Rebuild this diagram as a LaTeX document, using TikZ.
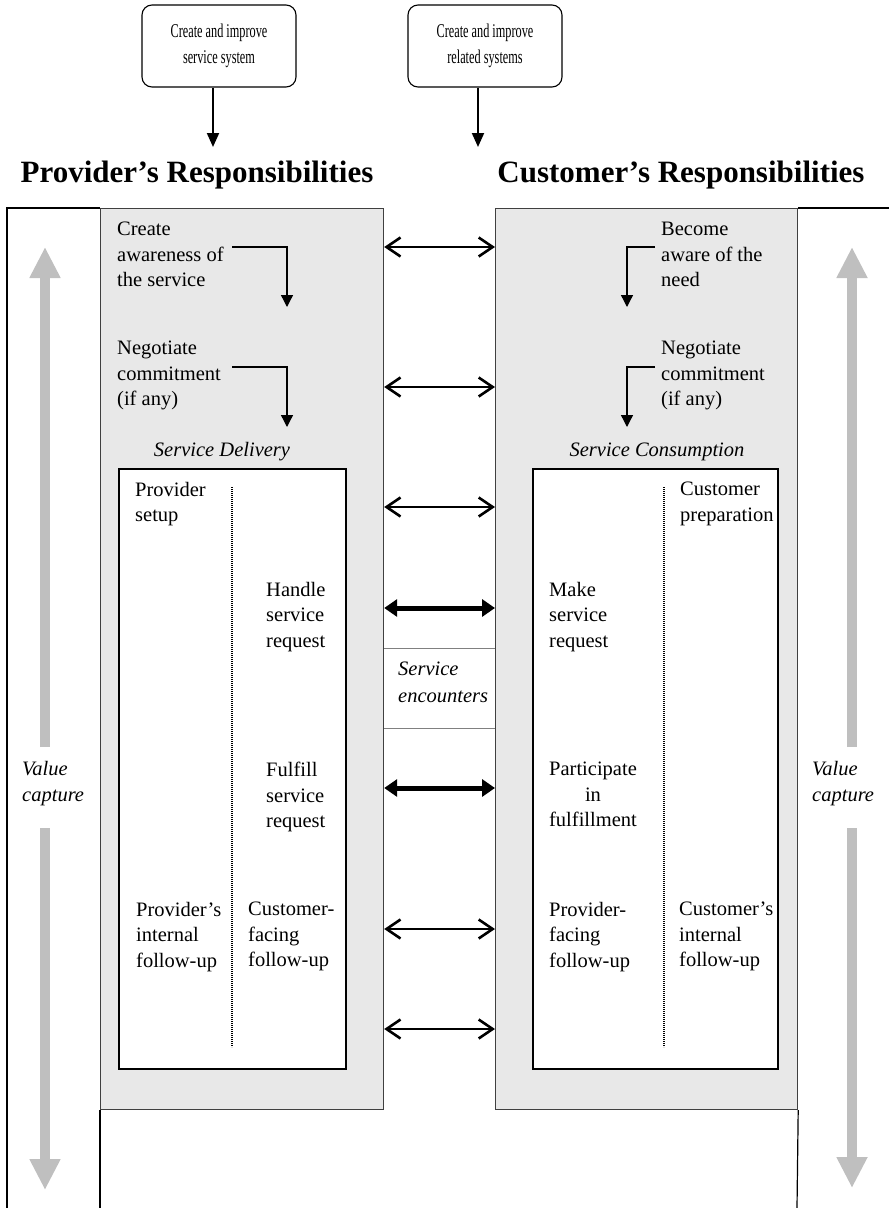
\documentclass[tikz,border=0pt]{standalone}
\usepackage{fontspec}
\setmainfont{Liberation Serif}
\newfontfamily\narrowfont[FakeStretch=0.63]{Liberation Serif}
\usetikzlibrary{arrows.meta}
\tikzset{
  body/.style={font=\fontsize{20.5}{25.5}\selectfont, inner sep=0pt, anchor=north west, align=left},
  ital/.style={body, font=\fontsize{20.5}{26.5}\selectfont\itshape},
  headtxt/.style={font=\fontsize{31}{36}\selectfont\bfseries, inner sep=0pt},
  topbox/.style={draw, line width=1.1pt, rounded corners=10pt, minimum width=154pt, minimum height=82pt, align=center, font=\narrowfont\fontsize{19.5}{26}\selectfont},
  greyside/.style={draw=black!75, fill=black!9, line width=1.2pt, inner sep=0pt, anchor=north west, minimum height=901pt},
  innerbox/.style={draw, fill=white, line width=2pt, inner sep=0pt, anchor=north west, minimum height=600pt},
  link/.style={{Straight Barb[length=14pt,width=19pt]}-{Straight Barb[length=14pt,width=19pt]}, line width=2.6pt},
  thicklink/.style={{Triangle[length=13pt,width=17pt]}-{Triangle[length=13pt,width=17pt]}, line width=5pt},
  bentarrow/.style={-{Triangle[length=12pt,width=12pt]}, line width=1.3pt},
  feedarrow/.style={-{Triangle[length=14pt,width=12pt]}, line width=2pt},
  valuearrow/.style={-{Triangle[length=31pt,width=29pt]}, line width=10pt, black!25},
  divider/.style={dash pattern=on 1.2pt off 0.8pt, line width=2pt},
  frame/.style={line width=1.2pt}
}
\begin{document}
\begin{tikzpicture}[x=1pt, y=-1pt]
\useasboundingbox (0,0) rectangle (889,1208);

\node[topbox] (psys) at (219,46) {Create and improve\\service system};
\node[topbox] (csys) at (485,46) {Create and improve\\related systems};
\node[headtxt] (phead) at (197,175) {Provider’s Responsibilities};
\node[headtxt] (chead) at (681,175) {Customer’s Responsibilities};
\coordinate (ptip) at (213,147);
\coordinate (ctip) at (478,147);
\draw[feedarrow] (psys.south -| ptip) -- (ptip);
\draw[feedarrow] (csys.south -| ctip) -- (ctip);

\node[greyside, minimum width=283pt] (pside) at (100,208) {};
\node[greyside, minimum width=302pt] (cside) at (495,208) {};
\draw[frame] (pside.north west) -- (7,208) -- (7,1208);
\draw[frame] (pside.south west) -- (100,1208);
\draw[frame] (cside.south east) -- (797,1208);
\draw[frame] (cside.north east) -- (889,208);

\node[innerbox, minimum width=227pt] (pinner) at (118,468) {};
\node[innerbox, minimum width=245pt] (cinner) at (532,468) {};
\draw[divider] (232,487) -- (232,1047);
\draw[divider] (664,487) -- (664,1047);

\node[body] (paware) at (117,222) {Create\\awareness of\\the service};
\node[body] (pneg) at (117,341) {Negotiate\\commitment\\(if any)};
\node[body] (caware) at (661,222) {Become\\aware of the\\need};
\node[body] (cneg) at (661,341) {Negotiate\\commitment\\(if any)};
\coordinate (pa1) at (232,247); \coordinate (pa2) at (287,307);
\coordinate (pn1) at (232,367); \coordinate (pn2) at (287,427);
\coordinate (ca1) at (655,247); \coordinate (ca2) at (627,307);
\coordinate (cn1) at (655,367); \coordinate (cn2) at (627,427);
\draw[bentarrow] (pa1) -| (pa2);
\draw[bentarrow] (pn1) -| (pn2);
\draw[bentarrow] (ca1) -| (ca2);
\draw[bentarrow] (cn1) -| (cn2);

\node[ital, anchor=center] (pdeliv) at (222,452) {Service Delivery};
\node[ital, anchor=center] (cconsum) at (657,452) {Service Consumption};

\node[body] (psetup) at (135,482) {Provider\\setup};
\node[body] (phandle) at (266,582) {Handle\\service\\request};
\node[body] (pfulfil) at (266,762) {Fulfill\\service\\request};
\node[body] (pinternal) at (136,902) {Provider’s\\internal\\follow-up};
\node[body] (pfacing) at (248,902) {Customer-\\facing\\follow-up};

\node[body] (cprep) at (680,482) {Customer\\preparation};
\node[body] (cmake) at (549,582) {Make\\service\\request};
\node[body, anchor=north, align=center] (cpart) at (593,762) {Participate\\in\\fulfillment};
\node[body] (cfacing) at (549,902) {Provider-\\facing\\follow-up};
\node[body] (cinternal) at (679,902) {Customer’s\\internal\\follow-up};

\draw[black!50] (pside.east |- 0,648) -- (cside.west |- 0,648);
\draw[black!50] (pside.east |- 0,728) -- (cside.west |- 0,728);
\node[ital] (encount) at (398,662) {Service\\encounters};

\foreach \y in {247,387,507,929,1029}
  \draw[link] (pside.east |- 0,\y) -- (cside.west |- 0,\y);
\foreach \y in {608,788}
  \draw[thicklink] (pside.east |- 0,\y) -- (cside.west |- 0,\y);

\node[ital] (pvalue) at (22,761) {Value\\capture};
\node[ital] (cvalue) at (812,761) {Value\\capture};
\draw[valuearrow] (45,747) -- (45,247);
\draw[valuearrow] (45,828) -- (45,1190);
\draw[valuearrow] (852,747) -- (852,247);
\draw[valuearrow] (852,828) -- (852,1188);
\end{tikzpicture}
\end{document}
